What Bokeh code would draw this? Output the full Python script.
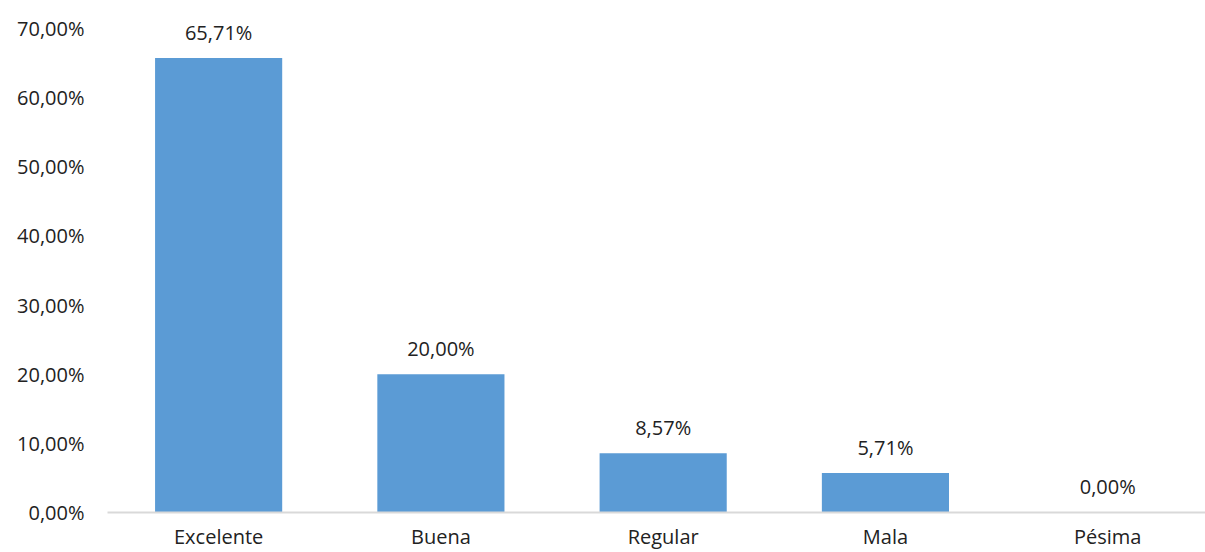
from bokeh.plotting import figure
from bokeh.models import ColumnDataSource, FixedTicker, Range1d
from bokeh.core.properties import value
from bokeh.embed import file_html
from bokeh.resources import INLINE

categories = ["Excelente", "Buena", "Regular", "Mala", "Pésima"]
percentages = [65.71, 20.00, 8.57, 5.71, 0.00]
y_ticks = [0, 10, 20, 30, 40, 50, 60, 70]

FONT = "Open Sans"
TXT = "#222222"
FS = "20px"

def fmt(v):
    return f"{v:.2f}".replace(".", ",") + "%"

xs = [i + 0.5 for i in range(len(categories))]
src = ColumnDataSource(dict(x=xs, y=percentages, lbl=[fmt(v) for v in percentages]))

p = figure(width=1205, height=552, output_backend="svg", toolbar_location=None,
           x_range=Range1d(0, 4.94), y_range=Range1d(0, 72),
           min_border_left=107, min_border_right=0, min_border_top=14, min_border_bottom=40)
p.outline_line_color = None
p.xgrid.grid_line_color = None
p.ygrid.grid_line_color = None
p.background_fill_color = "white"
p.border_fill_color = "white"

p.vbar(x="x", top="y", bottom=0, width=0.572, source=src, fill_color="#5B9BD5", line_color=None)
p.text(x="x", y="y", text="lbl", source=src, text_align="center", text_baseline="alphabetic",
       y_offset=-26, text_font=value(FONT), text_font_size=FS, text_color=TXT)

xa = p.xaxis[0]
xa.ticker = FixedTicker(ticks=xs)
xa.major_label_overrides = {x: c for x, c in zip(xs, categories)}
xa.major_label_standoff = 4
xa.major_tick_line_color = None
xa.minor_tick_line_color = None
xa.axis_line_color = "#D9D9D9"
xa.axis_line_width = 2
xa.major_label_text_font = FONT
xa.major_label_text_font_size = FS
xa.major_label_text_color = TXT

ya = p.yaxis[0]
ya.ticker = FixedTicker(ticks=y_ticks)
ya.major_label_overrides = {t: fmt(t) for t in y_ticks}
ya.major_tick_line_color = None
ya.minor_tick_line_color = None
ya.axis_line_color = None
ya.major_label_standoff = 17
ya.major_label_text_font = FONT
ya.major_label_text_font_size = FS
ya.major_label_text_color = TXT

open("out.html", "w").write(file_html(p, INLINE))
